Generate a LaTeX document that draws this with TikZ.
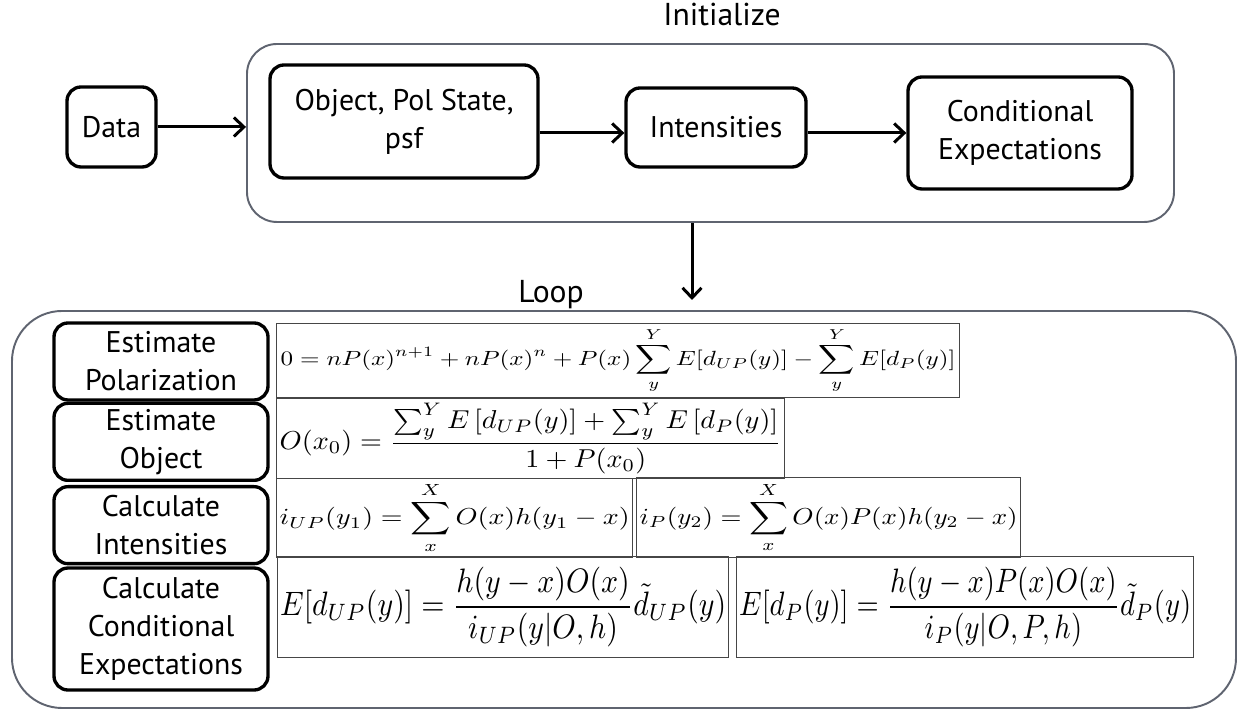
\documentclass[tikz,border=0pt]{standalone}
\usepackage{fontspec}
\usepackage{amsmath}
\usepackage{graphicx}
\usetikzlibrary{arrows.meta,positioning}
\newfontfamily\gillfont{PT Sans}
\definecolor{cframe}{RGB}{95,100,112}
\definecolor{cfml}{RGB}{70,70,70}
% formula squeezed into a fixed width x total height
\newcommand{\fml}[3]{\resizebox*{#1}{#2}{$\displaystyle #3$}}

\begin{document}
\begin{tikzpicture}[
  >={Straight Barb[length=2mm,width=3.8mm]},
  stepbox/.style={draw,line width=1.9pt,rounded corners=0.28cm,align=center,inner sep=0pt,
                  font=\gillfont\fontsize{17}{21.5}\selectfont},
  group/.style={draw=cframe,line width=1.1pt,inner sep=0pt},
  fmlbox/.style={draw=cfml,line width=0.7pt,inner sep=0pt,anchor=north west},
  flow/.style={->,line width=1.7pt},
  title/.style={font=\gillfont\fontsize{18}{22}\selectfont},
]
\useasboundingbox (0,0) rectangle (24.74,14.3);

% ============================ INITIALIZE ============================
\node[group,rounded corners=0.6cm,minimum width=18.54cm,minimum height=3.56cm] (init) at (14.21,11.64) {};
\node[title] (initlbl) at (14.44,14.0) {Initialize};

\node[stepbox,minimum width=1.78cm,minimum height=1.6cm] (data) at (2.23,11.76) {Data};
\node[stepbox,minimum width=5.36cm,minimum height=2.26cm] (obj) at (8.08,11.87) {Object, Pol State,\\psf};
\node[stepbox,minimum width=3.6cm,minimum height=1.58cm] (intens) at (14.32,11.75) {Intensities};
\node[stepbox,minimum width=4.48cm,minimum height=2.24cm] (cond) at (20.40,11.64) {Conditional\\Expectations};

\draw[flow] (data.east) -- (data.east -| init.west);
\draw[flow] (obj.east |- cond.west) -- (intens.west |- cond.west);
\draw[flow] (intens.east |- cond.west) -- (cond.west);

% into the loop
\coordinate (loopin) at (13.84,8.30);
\draw[flow] (loopin |- init.south) -- (loopin);

% ============================ LOOP ============================
\node[group,rounded corners=1cm,minimum width=24.48cm,minimum height=7.94cm] (loop) at (12.48,4.11) {};
\node[title] (looplbl) at (11.02,8.40) {Loop};

% step column
\node[stepbox,minimum width=4.28cm,minimum height=1.54cm] (estpol) at (3.22,7.07) {Estimate\\Polarization};
\node[stepbox,minimum width=4.28cm,minimum height=1.54cm,below=0pt of estpol] (estobj) {Estimate\\Object};
\node[stepbox,minimum width=4.28cm,minimum height=1.54cm,below=0.06cm of estobj] (calcint) {Calculate\\Intensities};
\node[stepbox,minimum width=4.28cm,minimum height=2.44cm,below=0.02cm of calcint] (calccond) {Calculate\\Conditional\\Expectations};

% formulas
\node[fmlbox,minimum width=13.66cm,minimum height=1.48cm] (fpol) at (5.52,7.84)
  {\fml{13.5cm}{1.32cm}{0 = nP(x)^{n+1} + nP(x)^{n} + P(x)\sum_{y}^{Y} E[d_{UP}(y)] - \sum_{y}^{Y} E[d_{P}(y)]}};
\node[fmlbox,minimum width=10.16cm,minimum height=1.6cm] (fobj) at (5.52,6.34)
  {\fml{10.04cm}{1.42cm}{O(x_0) = \frac{\sum_y^Y E\left[d_{UP}(y)\right] + \sum_y^Y E\left[d_P(y)\right]}{1+P(x_0)}}};
\node[fmlbox,minimum width=7.12cm,minimum height=1.58cm] (fintup) at (5.52,4.74)
  {\fml{7.0cm}{1.42cm}{i_{UP}(y_1) = \sum_{x}^{X} O(x)h(y_1-x)}};
\node[fmlbox,minimum width=7.68cm,minimum height=1.6cm] (fintp) at (12.72,4.76)
  {\fml{7.56cm}{1.42cm}{i_{P}(y_2) = \sum_{x}^{X} O(x)P(x)h(y_2-x)}};
\node[fmlbox,minimum width=9.02cm,minimum height=2.02cm] (fcondup) at (5.54,3.18)
  {\fml{8.92cm}{1.6cm}{E[d_{UP}(y)] = \frac{h(y-x)O(x)}{i_{UP}(y|O,h)}\tilde{d}_{UP}(y)}};
\node[fmlbox,minimum width=9.14cm,minimum height=2.02cm] (fcondp) at (14.72,3.18)
  {\fml{9.04cm}{1.6cm}{E[d_{P}(y)] = \frac{h(y-x)P(x)O(x)}{i_{P}(y|O,P,h)}\tilde{d}_{P}(y)}};

\end{tikzpicture}
\end{document}
